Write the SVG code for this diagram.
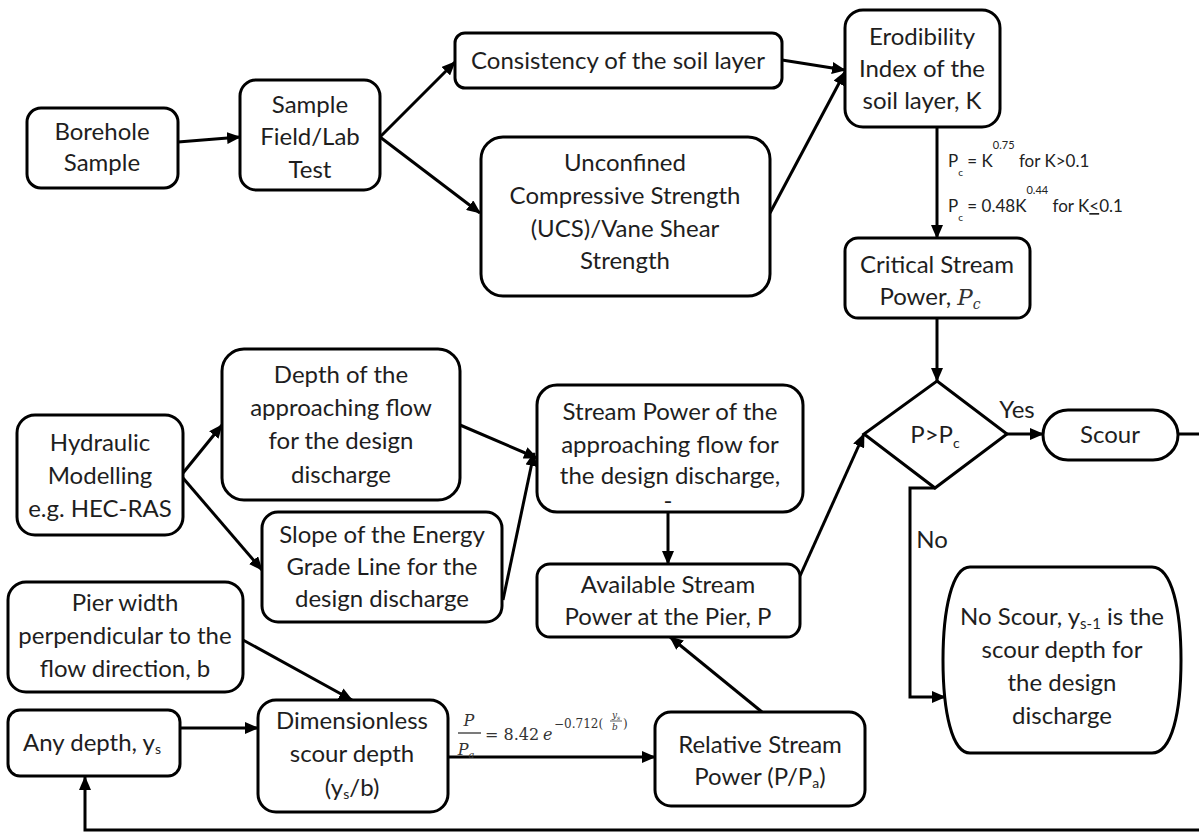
<svg xmlns="http://www.w3.org/2000/svg" width="1199" height="834" viewBox="0 0 1199 834">
<defs>
<marker id="ah" markerUnits="userSpaceOnUse" markerWidth="14" markerHeight="12" refX="13" refY="6" orient="auto"><path d="M0,0 L14,6 L0,12 z" fill="#000"/></marker>
<style>
.box{fill:#fff;stroke:#000;stroke-width:3}
.t{font-family:Lato,"Liberation Sans",sans-serif;font-size:24px;fill:#1e1e1e;text-anchor:middle}
.c{fill:none;stroke:#000;stroke-width:3;marker-end:url(#ah)}
.eq{font-family:Lato,"Liberation Sans",sans-serif;font-size:17px;fill:#222}
.m{font-family:"DejaVu Serif","Liberation Serif",serif;font-style:italic;fill:#333}
</style>
</defs>
<rect width="1199" height="834" fill="#fff"/>
<g id="connectors">
<path class="c" d="M178,142 L240,137"/>
<path class="c" d="M380,137 L455,62"/>
<path class="c" d="M380,137 L480,213"/>
<path class="c" d="M782,60 L845,70"/>
<path class="c" d="M770,213 L845,72"/>
<path class="c" d="M937,127 V238"/>
<path class="c" d="M937,318 V381"/>
<path class="c" d="M1007,434 H1043"/>
<path class="c" d="M1178,434 H1210 V830 H85 V777"/>
<path class="c" d="M183,473 L222,425"/>
<path class="c" d="M183,478 L262,570"/>
<path class="c" d="M460,425 L537,458"/>
<path class="c" d="M503,600 L534,453"/>
<path class="c" d="M668,512 V564"/>
<path class="c" d="M800,576 L864,434"/>
<path class="c" d="M243,640 L352,700"/>
<path class="c" d="M180,728 H258"/>
<path class="c" d="M448,757 H655"/>
<path class="c" d="M762,712 L670,637"/>
<path class="c" d="M935,488 H910 V697 H945"/>
</g>
<g id="eq-labels">
<text class="eq" x="948" y="167">P<tspan font-size="10" dy="9">c</tspan><tspan dy="-9"> = K</tspan><tspan font-size="11" dy="-18">0.75</tspan><tspan dy="18"> for K&gt;0.1</tspan></text>
<text class="eq" x="948" y="212">P<tspan font-size="10" dy="9">c</tspan><tspan dy="-9"> = 0.48K</tspan><tspan font-size="11" dy="-18">0.44</tspan><tspan dy="18"> for K</tspan><tspan text-decoration="underline">&lt;</tspan>0.1</text>
<g class="m">
<text x="469" y="726" font-size="16" text-anchor="middle">P</text>
<line x1="458" y1="733" x2="481" y2="733" stroke="#333" stroke-width="1.3"/>
<text x="466" y="755" font-size="16" text-anchor="middle">P<tspan font-size="10" dy="3">a</tspan></text>
<text x="485" y="740" font-size="16" font-style="normal">= 8.42</text>
<text x="543" y="740" font-size="16">e</text>
<text x="554" y="728" font-size="12" font-style="normal">−0.712(</text>
<text x="612" y="718" font-size="9">y<tspan font-size="6" dy="2">s</tspan></text>
<line x1="610" y1="721" x2="622" y2="721" stroke="#333" stroke-width="0.8"/>
<text x="612" y="730" font-size="9">b</text>
<text x="623" y="728" font-size="12" font-style="normal">)</text>
</g>
<text class="t" x="1017" y="418">Yes</text>
<text class="t" x="932" y="548">No</text>
</g>
<g id="borehole"><rect class="box" x="27" y="108" width="151" height="80" rx="14"/><text class="t" x="102" y="140">Borehole</text><text class="t" x="102" y="171">Sample</text></g>
<g id="sampletest"><rect class="box" x="240" y="80" width="140" height="110" rx="16"/><text class="t" x="310" y="113">Sample</text><text class="t" x="310" y="145">Field/Lab</text><text class="t" x="310" y="178">Test</text></g>
<g id="consistency"><rect class="box" x="455" y="33" width="327" height="55" rx="10"/><text class="t" x="618" y="69">Consistency of the soil layer</text></g>
<g id="ucs"><rect class="box" x="481" y="137" width="289" height="159" rx="22"/><text class="t" x="625" y="171">Unconfined</text><text class="t" x="625" y="204">Compressive Strength</text><text class="t" x="625" y="237">(UCS)/Vane Shear</text><text class="t" x="625" y="269">Strength</text></g>
<g id="erodibility"><rect class="box" x="845" y="10" width="155" height="117" rx="18"/><text class="t" x="922" y="45">Erodibility</text><text class="t" x="922" y="77">Index of the</text><text class="t" x="922" y="109">soil layer, K</text></g>
<g id="critical"><rect class="box" x="845" y="238" width="185" height="80" rx="13"/><text class="t" x="937" y="273">Critical Stream</text><text class="t" x="930" y="305">Power, <tspan class="m" font-size="23">P</tspan><tspan class="m" font-size="14" dy="4">c</tspan></text></g>
<g id="decision"><path class="box" d="M937,381 L1007,434 L935,488 L864,434 Z"/><text class="t" x="935" y="443">P&gt;P<tspan font-size="14" dy="5">c</tspan></text></g>
<g id="scour"><rect class="box" x="1043" y="410" width="135" height="50" rx="25"/><text class="t" x="1110" y="443">Scour</text></g>
<g id="noscour"><path class="box" d="M970,567 H1152 C1172,567 1181,610 1181,660 C1181,712 1172,753 1152,753 H970 C952,753 943,712 943,660 C943,610 952,567 970,567 Z"/><text class="t" x="1062" y="625">No Scour, y<tspan font-size="15" dy="4">s-1</tspan><tspan dy="-4"> is the</tspan></text><text class="t" x="1062" y="658">scour depth for</text><text class="t" x="1062" y="691">the design</text><text class="t" x="1062" y="724">discharge</text></g>
<g id="hydraulic"><rect class="box" x="17" y="415" width="166" height="120" rx="18"/><text class="t" x="100" y="451">Hydraulic</text><text class="t" x="100" y="484">Modelling</text><text class="t" x="100" y="517">e.g. HEC-RAS</text></g>
<g id="depth"><rect class="box" x="222" y="349" width="238" height="151" rx="22"/><text class="t" x="341" y="383">Depth of the</text><text class="t" x="341" y="416">approaching flow</text><text class="t" x="341" y="449">for the design</text><text class="t" x="341" y="483">discharge</text></g>
<g id="slope"><rect class="box" x="262" y="512" width="240" height="110" rx="16"/><text class="t" x="382" y="543">Slope  of the Energy</text><text class="t" x="382" y="575">Grade Line for the</text><text class="t" x="382" y="607">design discharge</text></g>
<g id="streampower"><rect class="box" x="537" y="385" width="266" height="127" rx="20"/><text class="t" x="670" y="420">Stream Power of the</text><text class="t" x="670" y="453">approaching flow for</text><text class="t" x="670" y="484">the design discharge,</text><text class="t" x="668" y="509" font-size="10">-</text></g>
<g id="available"><rect class="box" x="537" y="564" width="263" height="73" rx="13"/><text class="t" x="668" y="593">Available Stream</text><text class="t" x="668" y="625">Power at the Pier, P</text></g>
<g id="pier"><rect class="box" x="8" y="582" width="235" height="110" rx="18"/><text class="t" x="125" y="611">Pier width</text><text class="t" x="125" y="644">perpendicular  to the</text><text class="t" x="125" y="677">flow direction, b</text></g>
<g id="anydepth"><rect class="box" x="8" y="710" width="172" height="66" rx="12"/><text class="t" x="92" y="751">Any depth, y<tspan font-size="14" dy="3">s</tspan></text></g>
<g id="dimensionless"><rect class="box" x="258" y="700" width="190" height="112" rx="18"/><text class="t" x="352" y="729">Dimensionless</text><text class="t" x="352" y="762">scour depth</text><text class="t" x="352" y="796">(y<tspan font-size="14" dy="3">s</tspan><tspan dy="-3">/b)</tspan></text></g>
<g id="relative"><rect class="box" x="655" y="712" width="210" height="94" rx="16"/><text class="t" x="760" y="753">Relative Stream</text><text class="t" x="760" y="785">Power (P/P<tspan font-size="14" dy="3">a</tspan><tspan dy="-3">)</tspan></text></g>
</svg>
